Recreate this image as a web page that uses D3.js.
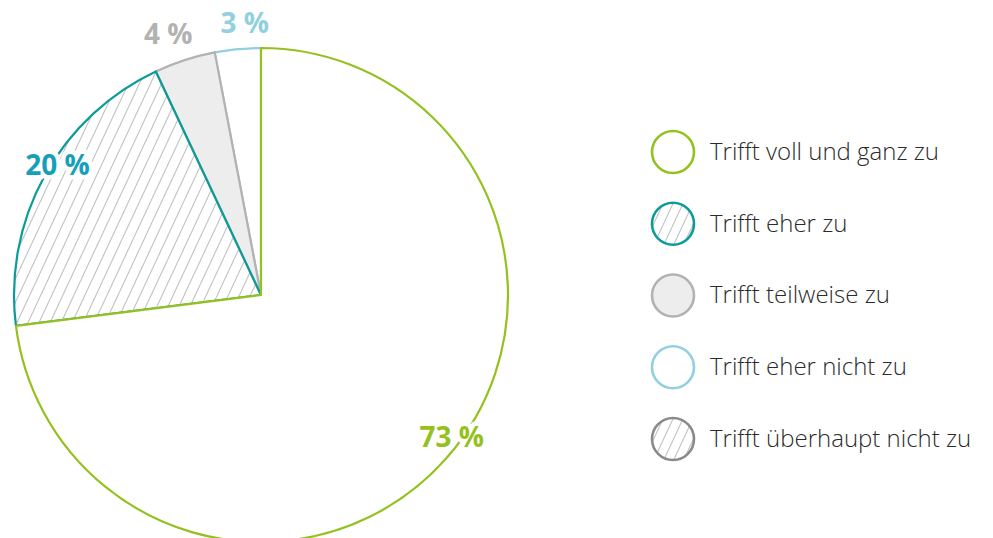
<!DOCTYPE html>
<html>
<head>
<meta charset="utf-8">
<script src="https://cdn.jsdelivr.net/npm/d3@7"></script>
<style>
  html, body { margin: 0; padding: 0; background: #fff; overflow: hidden; }
  svg { display: block; }
</style>
</head>
<body>
<div id="chart"></div>
<script>
// --- data ---
const categories = ['Trifft voll und ganz zu', 'Trifft eher zu', 'Trifft teilweise zu', 'Trifft eher nicht zu', 'Trifft überhaupt nicht zu'];
const values = [73, 20, 4, 3, 0];
const strokeColors = ['#95c11f', '#0a9c98', '#b2b2b2', '#92d0de', '#8a8a8a'];
const fillKinds = ['white', 'hatch', '#ededed', 'white', 'hatch'];
const labelColors = ['#95c11f', '#14a0b9', '#b2b2b2', '#92d0de', '#8a8a8a'];

const width = 993, height = 538;
const cx = 261, cy = 295, radius = 247;

const svg = d3.select('#chart').append('svg')
    .attr('width', width)
    .attr('height', height);

// hatch patterns
const defs = svg.append('defs');
defs.append('pattern')
    .attr('id', 'hatch')
    .attr('patternUnits', 'userSpaceOnUse')
    .attr('width', 10).attr('height', 10)
    .attr('patternTransform', 'rotate(25)')
    .append('line')
    .attr('x1', 0).attr('y1', 0).attr('x2', 0).attr('y2', 10)
    .attr('stroke', '#7a7a7a').attr('stroke-width', 1);

defs.append('pattern')
    .attr('id', 'hatchSmall')
    .attr('patternUnits', 'userSpaceOnUse')
    .attr('width', 9).attr('height', 9)
    .attr('patternTransform', 'rotate(25)')
    .append('line')
    .attr('x1', 0).attr('y1', 0).attr('x2', 0).attr('y2', 9)
    .attr('stroke', '#7a7a7a').attr('stroke-width', 1);

function fillFor(i, small) {
    if (fillKinds[i] === 'hatch') return small ? 'url(#hatchSmall)' : 'url(#hatch)';
    return fillKinds[i];
}

const pie = d3.pie().sort(null).value(d => d.value);
const arc = d3.arc().innerRadius(0).outerRadius(radius);

const data = categories.map((c, i) => ({ name: c, value: values[i], i: i }));
const arcs = pie(data).filter(d => d.data.value > 0);

const g = svg.append('g').attr('transform', `translate(${cx},${cy})`);

// draw in reverse so earlier slices' borders sit on top
g.selectAll('path.slice')
    .data(arcs.slice().reverse())
    .enter().append('path')
    .attr('class', 'slice')
    .attr('d', arc)
    .attr('fill', d => fillFor(d.data.i, false))
    .attr('stroke', d => strokeColors[d.data.i])
    .attr('stroke-width', 2.2)
    .attr('stroke-linejoin', 'round');

// labels: placed near the rim, small slices pushed outward
const labelTweak = [
    { da: -5, r: 237 },
    { da: 4, r: 242 },
    { da: -1.5, r: 278 },
    { da: 2, r: 273 }
];
g.selectAll('text.pct')
    .data(arcs)
    .enter().append('text')
    .attr('class', 'pct')
    .each(function(d, k) {
        const t = labelTweak[k] || { da: 0, r: radius };
        const mid = (d.startAngle + d.endAngle) / 2 + t.da * Math.PI / 180;
        d3.select(this)
            .attr('x', t.r * Math.sin(mid))
            .attr('y', -t.r * Math.cos(mid));
    })
    .attr('text-anchor', 'middle')
    .attr('dominant-baseline', 'central')
    .attr('font-family', '"Open Sans", "DejaVu Sans", sans-serif')
    .attr('font-weight', 700)
    .attr('font-size', 28)
    .attr('fill', d => labelColors[d.data.i])
    .attr('stroke', '#fff')
    .attr('stroke-width', 9)
    .attr('stroke-linejoin', 'round')
    .attr('paint-order', 'stroke')
    .text(d => d.data.value + ' %');

// legend
const ly = d3.scalePoint().domain(categories).range([152, 439]);
const legend = svg.append('g').selectAll('g.item')
    .data(data)
    .enter().append('g')
    .attr('class', 'item')
    .attr('transform', d => `translate(673,${ly(d.name)})`);

legend.append('circle')
    .attr('r', 21)
    .attr('fill', d => fillFor(d.i, true))
    .attr('stroke', d => strokeColors[d.i])
    .attr('stroke-width', 2.6);

legend.append('text')
    .attr('x', 37)
    .attr('dy', '0.33em')
    .attr('font-family', '"Open Sans", "DejaVu Sans", sans-serif')
    .attr('font-weight', 300)
    .attr('font-size', 24)
    .attr('fill', '#2b2b2b')
    .text(d => d.name);
</script>
</body>
</html>
